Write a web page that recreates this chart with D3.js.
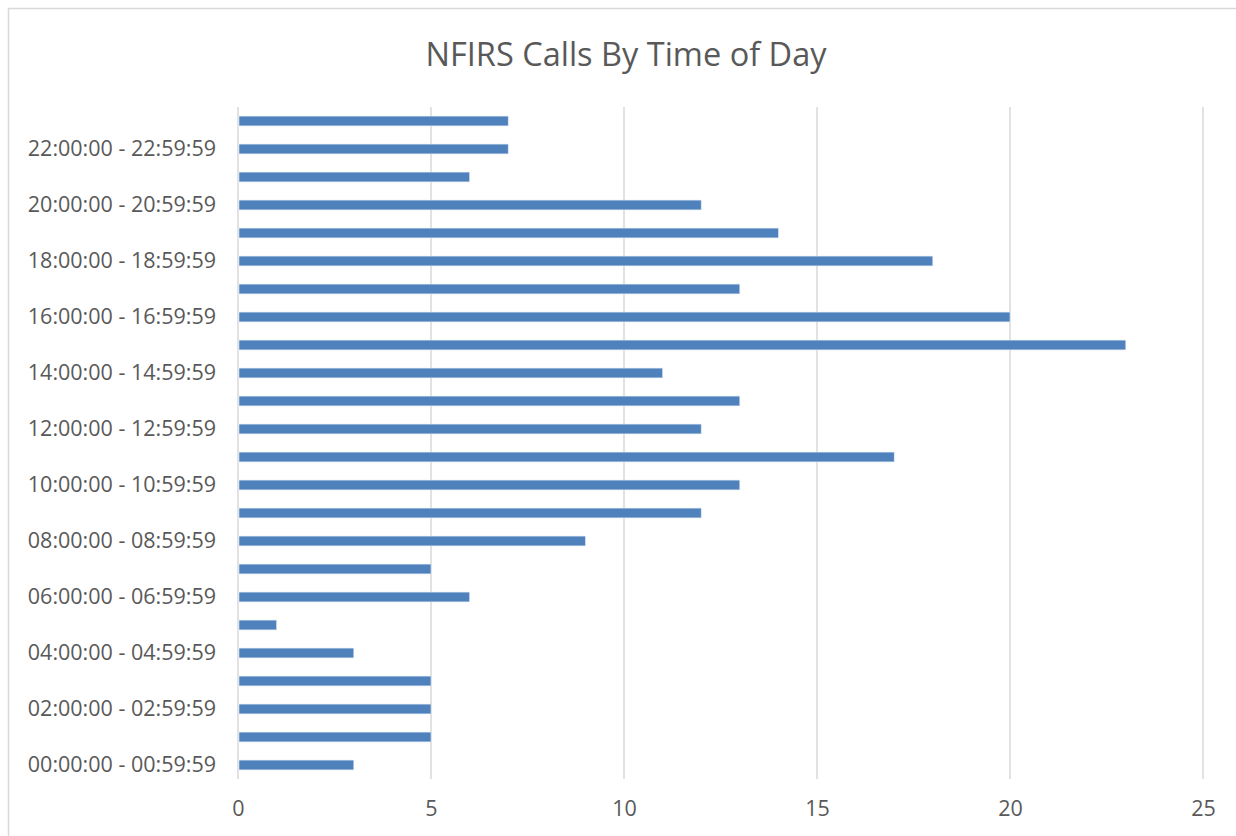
<!DOCTYPE html>
<html>
<head>
<meta charset="utf-8">
<script src="https://cdn.jsdelivr.net/npm/d3@7"></script>
<style>
  body { margin: 0; background: #fff; }
  svg { display: block; font-family: "Open Sans", sans-serif; }
</style>
</head>
<body>
<svg id="chart" width="1236" height="836"></svg>
<script>
const title = "NFIRS Calls By Time of Day";

const hours = d3.range(24).map(h => {
    const hh = String(h).padStart(2, "0");
    return `${hh}:00:00 - ${hh}:59:59`;
});

// calls per hour, 00 -> 23
const calls = [3, 5, 5, 5, 3, 1, 6, 5, 9, 12, 13, 17, 12, 13, 11, 23, 20, 13, 18, 14, 12, 6, 7, 7];

const xTicks = [0, 5, 10, 15, 20, 25];

const data = hours.map((label, i) => ({ label, value: calls[i] }));

const svg = d3.select("#chart");
const margin = { top: 107, left: 238, width: 965, height: 672 };

// outer border (cropped on right and bottom)
svg.append("rect")
    .attr("x", 8.5).attr("y", 8.5)
    .attr("width", 1300).attr("height", 900)
    .attr("fill", "none")
    .attr("stroke", "#d9d9d9")
    .attr("stroke-width", 1.5);

svg.append("text")
    .attr("x", 626)
    .attr("y", 66)
    .attr("text-anchor", "middle")
    .attr("fill", "#595959")
    .style("font-size", "32.5px")
    .text(title);

const x = d3.scaleLinear()
    .domain([0, 25])
    .range([0, margin.width]);

const y = d3.scaleBand()
    .domain(hours.slice().reverse())
    .range([0, margin.height])
    .paddingInner(0.65)
    .paddingOuter(0.325);

const g = svg.append("g")
    .attr("transform", `translate(${margin.left},${margin.top})`);

// vertical gridlines
g.append("g")
    .selectAll("line")
    .data(xTicks)
    .enter().append("line")
    .attr("x1", d => x(d)).attr("x2", d => x(d))
    .attr("y1", 0).attr("y2", margin.height)
    .attr("stroke", "#d9d9d9")
    .attr("stroke-width", 1.5);

g.append("g")
    .selectAll("rect")
    .data(data)
    .enter().append("rect")
    .attr("x", x(0) + 1)
    .attr("y", d => y(d.label))
    .attr("width", d => x(d.value) - x(0) - 1)
    .attr("height", y.bandwidth())
    .attr("fill", "#4f81bd")
    .attr("stroke", "#dce6f2")
    .attr("stroke-width", 0.6);

const xAxis = g.append("g")
    .attr("transform", `translate(0,${margin.height})`)
    .call(d3.axisBottom(x).tickValues(xTicks).tickSize(0).tickPadding(22));

const yAxis = g.append("g")
    .call(d3.axisLeft(y)
        .tickValues(hours.filter((d, i) => i % 2 === 0))
        .tickSize(0)
        .tickPadding(22));

[xAxis, yAxis].forEach(a => {
    a.select(".domain").remove();
    a.selectAll("text")
        .attr("fill", "#595959")
        .style("font-size", "21.5px")
        .style("font-family", "'Open Sans', sans-serif");
});
</script>
</body>
</html>
